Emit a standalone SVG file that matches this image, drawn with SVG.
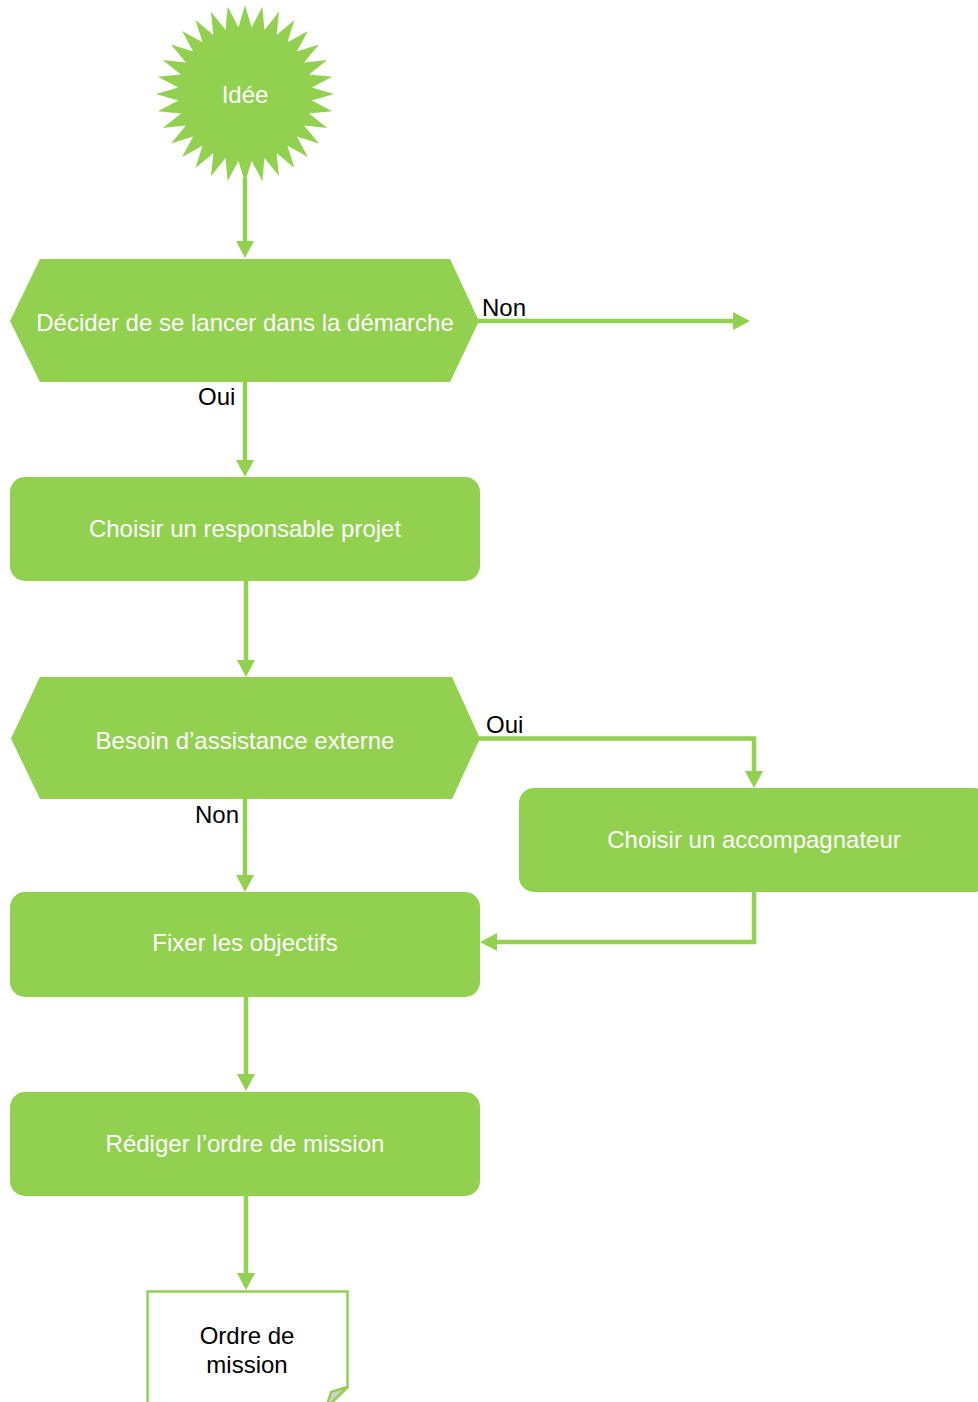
<svg xmlns="http://www.w3.org/2000/svg" width="978" height="1402" viewBox="0 0 978 1402">
<style>
.shape{fill:#92d050;stroke:none}
.ntext{font-family:"Liberation Sans",Arial,sans-serif;font-size:24px;fill:#ffffff;text-anchor:middle}
.dtext{font-family:"Liberation Sans",Arial,sans-serif;font-size:24px;fill:#000000;text-anchor:middle}
.lbl{font-family:"Liberation Sans",Arial,sans-serif;font-size:24px;fill:#000000}
.conn{fill:none;stroke:#92d050;stroke-width:4.5;stroke-linejoin:miter}
</style>
<defs>
<marker id="arr" markerUnits="userSpaceOnUse" markerWidth="18" markerHeight="18" viewBox="0 0 17 18" refX="1" refY="9" orient="auto">
<path d="M0,0 L17,9 L0,18 z" fill="#92d050"/>
</marker>
</defs>
<rect width="978" height="1402" fill="#ffffff"/>

<g id="connectors">
<path class="conn" d="M245,178 V242" marker-end="url(#arr)"/>
<path class="conn" d="M478,321 H734" marker-end="url(#arr)"/>
<path class="conn" d="M245,381 V461" marker-end="url(#arr)"/>
<path class="conn" d="M246,580 V661" marker-end="url(#arr)"/>
<path class="conn" d="M479,738.5 H754 V772" marker-end="url(#arr)"/>
<path class="conn" d="M245,798 V876" marker-end="url(#arr)"/>
<path class="conn" d="M754,891 V942 H496" marker-end="url(#arr)"/>
<path class="conn" d="M246,996 V1075" marker-end="url(#arr)"/>
<path class="conn" d="M246,1195 V1274" marker-end="url(#arr)"/>
</g>

<g id="labels">
<text class="lbl" x="482" y="316">Non</text>
<text class="lbl" x="198" y="405">Oui</text>
<text class="lbl" x="486" y="733">Oui</text>
<text class="lbl" x="195" y="823">Non</text>
</g>

<g id="idee">
<path class="shape" transform="translate(245,94)" d="M0,-89 L6.57,-66.68 17.36,-87.29 19.45,-64.11 34.06,-82.23 31.58,-59.09 49.45,-74 42.5,-51.79 62.93,-62.93 51.79,-42.5 74,-49.45 59.09,-31.58 82.23,-34.06 64.11,-19.45 87.29,-17.36 66.68,-6.57 89,0 66.68,6.57 87.29,17.36 64.11,19.45 82.23,34.06 59.09,31.58 74,49.45 51.79,42.5 62.93,62.93 42.5,51.79 49.45,74 31.58,59.09 34.06,82.23 19.45,64.11 17.36,87.29 6.57,66.68 0,89 -6.57,66.68 -17.36,87.29 -19.45,64.11 -34.06,82.23 -31.58,59.09 -49.45,74 -42.5,51.79 -62.93,62.93 -51.79,42.5 -74,49.45 -59.09,31.58 -82.23,34.06 -64.11,19.45 -87.29,17.36 -66.68,6.57 -89,0 -66.68,-6.57 -87.29,-17.36 -64.11,-19.45 -82.23,-34.06 -59.09,-31.58 -74,-49.45 -51.79,-42.5 -62.93,-62.93 -42.5,-51.79 -49.45,-74 -31.58,-59.09 -34.06,-82.23 -19.45,-64.11 -17.36,-87.29 -6.57,-66.68 Z"/>
<text class="ntext" x="245" y="102.5">Idée</text>
</g>

<g id="decider">
<polygon class="shape" points="10,321 40,259 450,259 479,321 450,382 40,382"/>
<text class="ntext" x="245" y="330.5">Décider de se lancer dans la démarche</text>
</g>

<g id="responsable">
<rect class="shape" x="10" y="477" width="470" height="104" rx="15" ry="15"/>
<text class="ntext" x="245" y="537">Choisir un responsable projet</text>
</g>

<g id="besoin">
<polygon class="shape" points="11,738.5 40,677 452,677 480,738.5 452,799 40,799"/>
<text class="ntext" x="245" y="748.5">Besoin d’assistance externe</text>
</g>

<g id="accompagnateur">
<rect class="shape" x="519" y="788" width="470" height="104" rx="15" ry="15"/>
<text class="ntext" x="754" y="847.5">Choisir un accompagnateur</text>
</g>

<g id="fixer">
<rect class="shape" x="10" y="892" width="470" height="105" rx="15" ry="15"/>
<text class="ntext" x="245" y="951">Fixer les objectifs</text>
</g>

<g id="rediger">
<rect class="shape" x="10" y="1092" width="470" height="104" rx="15" ry="15"/>
<text class="ntext" x="245" y="1151.5">Rédiger l’ordre de mission</text>
</g>

<g id="ordre">
<path d="M147.5,1291.5 H347.5 V1387 L326,1408 H147.5 Z" fill="#ffffff" stroke="#92d050" stroke-width="2.5"/>
<path d="M347.5,1387 L331,1392 L326,1408 Z" fill="#d0d0d0" stroke="#92d050" stroke-width="2.5" stroke-linejoin="round"/>
<text class="dtext" x="247" y="1344">Ordre de</text>
<text class="dtext" x="247" y="1373">mission</text>
</g>
</svg>
